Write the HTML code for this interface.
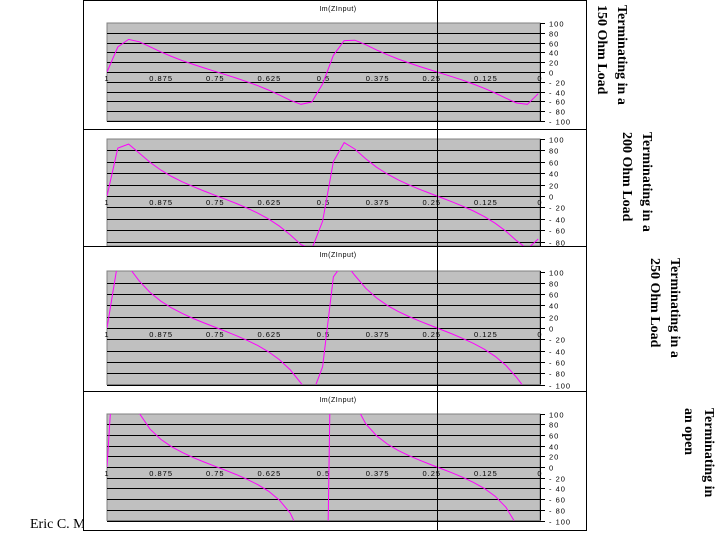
<!DOCTYPE html>
<html><head><meta charset="utf-8">
<style>
html,body{margin:0;padding:0;background:#fff;}
body{width:719px;height:539px;position:relative;overflow:hidden;}
.lab{position:absolute;writing-mode:vertical-rl;font-family:"Liberation Serif",serif;font-weight:bold;font-size:14px;line-height:20px;white-space:nowrap;color:#000;}
#foot{position:absolute;left:30px;top:518px;height:16px;line-height:14px;font-family:"Liberation Serif",serif;font-size:14px;white-space:nowrap;overflow:hidden;}
svg{position:absolute;left:0;top:0;}
</style></head><body>
<div id="foot">Eric C. Maxxxx  408-415-3193</div>
<div class="lab" style="left:591px;top:5px;">Terminating in a<br>150 Ohm Load</div>
<div class="lab" style="left:616px;top:132px;">Terminating in a<br>200 Ohm Load</div>
<div class="lab" style="left:644px;top:258px;">Terminating in a<br>250 Ohm Load</div>
<div class="lab" style="left:678px;top:408px;">Terminating in<br>an open</div>
<svg id="s" width="719" height="539" xmlns="http://www.w3.org/2000/svg"></svg>
<script>
var P=[
 {y0:0,y1:129,top:23,zero:72,st:9.8,R:150,title:true},
 {y0:129,y1:246,top:139,zero:196,st:11.4,R:200,title:false},
 {y0:246,y1:391,top:271,zero:328,st:11.3,R:250,title:true},
 {y0:391,y1:530,top:414,zero:467,st:10.7,R:0,title:true}
];
var h='';var L=107,Rr=540;
var xl=['1','0.875','0.75','0.625','0.5','0.375','0.25','0.125','0'];
P.forEach(function(p,i){
 var bot=p.zero+5*p.st;
 h+='<defs><clipPath id="c'+i+'"><rect x="'+L+'" y="'+p.top+'" width="'+(Rr-L)+'" height="'+(Math.min(bot,p.y1)-p.top)+'"/></clipPath></defs>';
 h+='<rect x="83.5" y="'+(p.y0+0.5)+'" width="503" height="'+(p.y1-p.y0)+'" fill="#fff" stroke="#000"/>';
 h+='<rect x="'+L+'" y="'+p.top+'" width="'+(Rr-L)+'" height="'+(Math.min(bot,p.y1)-p.top)+'" fill="#c0c0c0" stroke="#808080"/>';
 if(p.title) h+='<text x="338" y="'+(p.y0+11)+'" font-family="Liberation Sans" font-size="7" text-anchor="middle" letter-spacing="0.5">Im(ZInput)</text>';
 for(var k=-5;k<=5;k++){
  var y=Math.round(p.zero-k*p.st)+0.5;
  if(y>p.y1) continue;
  if(k<5) h+='<line x1="'+L+'" x2="'+Rr+'" y1="'+y+'" y2="'+y+'" stroke="#000"/>';
  h+='<line x1="'+Rr+'" x2="545" y1="'+y+'" y2="'+y+'" stroke="#000"/>';
  if(y<p.y1-3) h+='<text x="549" y="'+(y+3)+'" font-family="Liberation Sans" font-size="7.5" letter-spacing="1">'+(k<0?'- ':'')+Math.abs(k*20)+'</text>';
 }
 h+='<line x1="'+(Rr+0.5)+'" x2="'+(Rr+0.5)+'" y1="'+p.top+'" y2="'+Math.min(bot,p.y1)+'" stroke="#000"/>';
 for(var j=0;j<9;j++){
  var x=L+j*(Rr-L)/8;
  h+='<text x="'+x+'" y="'+(p.zero+9)+'" font-family="Liberation Sans" font-size="7.5" text-anchor="middle" letter-spacing="1">'+xl[j]+'</text>';
 }
 var pts=[];
 for(var n=0;n<=40;n++){
  var d=1-n*0.0245; var t=Math.tan(2*Math.PI*d);var v;
  if(n==0) v=0;
  else if(p.R>0){v=50*t*(2500-p.R*p.R)/(2500+p.R*p.R*t*t);}
  else{v=-50/t;}
  if(v>2000)v=2000;if(v<-2000)v=-2000;
  var x=437+(0.25-d)*440;
  pts.push(x.toFixed(1)+','+(p.zero-v/20*p.st).toFixed(1));
 }
 h+='<polyline clip-path="url(#c'+i+')" points="'+pts.join(' ')+'" fill="none" stroke="#ff00ff" stroke-width="1"/>';
});
h+='<line x1="437.5" x2="437.5" y1="0" y2="530" stroke="#000"/>';
document.getElementById('s').innerHTML=h;
</script>
</body></html>
